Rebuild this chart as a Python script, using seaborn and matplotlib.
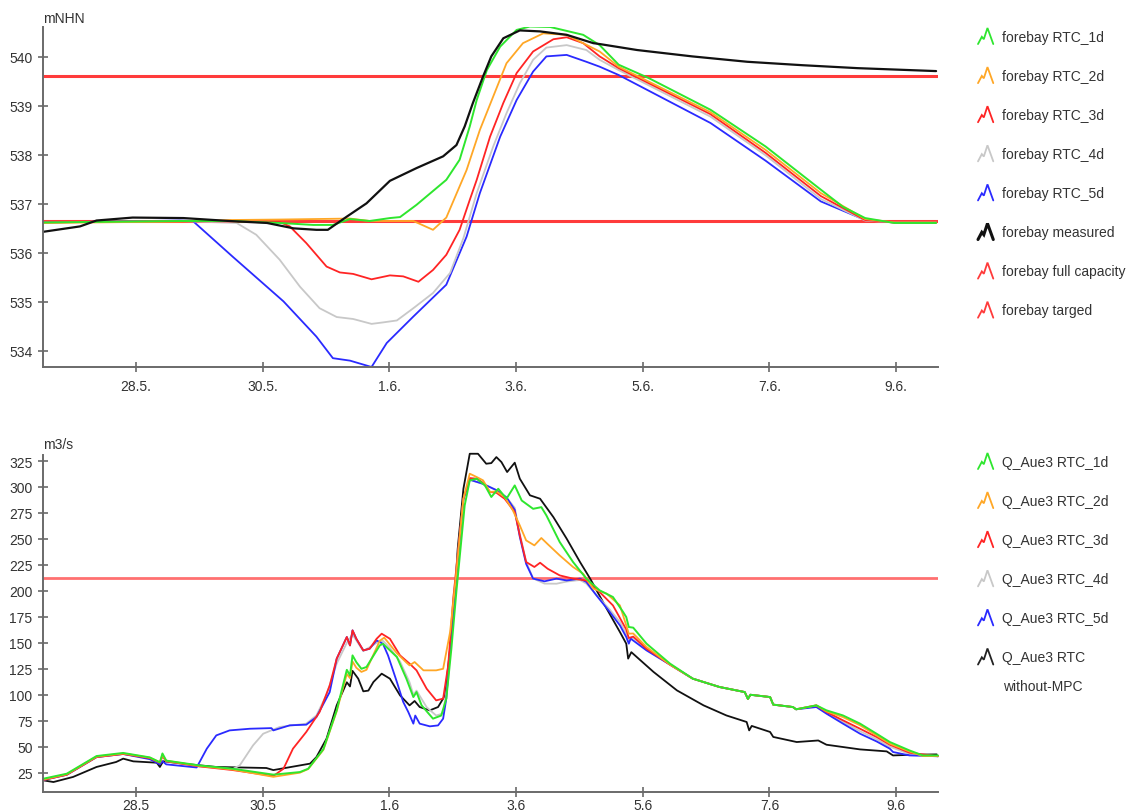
import numpy as np
import matplotlib
matplotlib.use("Agg")
import matplotlib.pyplot as plt
import seaborn as sns
from matplotlib.lines import Line2D
from matplotlib.legend_handler import HandlerBase

# ---------------- data (x = days after 28.5. 00:00) ----------------
x_ticks = [0, 2, 4, 6, 8, 10, 12]
x_labels_top = ["28.5.", "30.5.", "1.6.", "3.6.", "5.6.", "7.6.", "9.6."]
x_labels_bot = ["28.5", "30.5", "1.6", "3.6", "5.6", "7.6", "9.6"]

# --- forebay level [mNHN] ---
full_capacity = 539.6
targed = 536.65

t_meas = [-1.46, -0.88, -0.62, -0.05, 0.75, 1.48, 2.07, 2.49, 2.85, 3.03, 3.33, 3.64, 4.01, 4.43, 4.85, 5.06,
          5.19, 5.32, 5.48, 5.61, 5.80, 6.06, 6.38, 6.80, 7.22, 7.33, 7.91, 8.78, 9.65, 10.52, 11.39, 12.63]
h_meas = [536.43, 536.54, 536.66, 536.72, 536.71, 536.65, 536.61, 536.50, 536.47, 536.47, 536.74, 537.01,
          537.47, 537.73, 537.97, 538.20, 538.58, 539.06, 539.60, 540.01, 540.38, 540.54, 540.52, 540.45,
          540.28, 540.26, 540.14, 540.01, 539.90, 539.83, 539.77, 539.71]

t_h1 = [-1.46, 0.69, 1.48, 2.27, 2.80, 3.11, 3.38, 3.69, 4.01, 4.17, 4.43, 4.90, 5.11, 5.27, 5.38, 5.54,
        5.75, 6.01, 6.22, 6.54, 7.06, 7.32, 7.62, 8.09, 9.07, 9.94, 10.81, 11.16, 11.51, 11.97, 12.63]
h1 = [536.62, 536.65, 536.65, 536.61, 536.57, 536.57, 536.69, 536.65, 536.71, 536.73, 536.98, 537.49,
      537.90, 538.58, 539.12, 539.73, 540.21, 540.55, 540.62, 540.61, 540.45, 540.24, 539.84, 539.57,
      538.92, 538.17, 537.29, 536.94, 536.71, 536.61, 536.61]

t_h2 = [-1.46, 0.69, 1.48, 2.27, 3.38, 3.69, 4.38, 4.69, 4.90, 5.22, 5.43, 5.64, 5.85, 6.11, 6.43, 6.80,
        7.32, 7.62, 9.07, 9.94, 10.81, 11.51, 11.97, 12.63]
h2 = [536.61, 536.64, 536.67, 536.68, 536.70, 536.65, 536.65, 536.47, 536.72, 537.69, 538.51, 539.19,
      539.87, 540.28, 540.48, 540.45, 540.11, 539.80, 538.87, 538.10, 537.22, 536.69, 536.62, 536.62]

t_h3 = [-1.46, 0.69, 2.27, 2.43, 2.69, 3.01, 3.22, 3.43, 3.72, 4.01, 4.22, 4.46, 4.69, 4.90, 5.11, 5.27,
        5.38, 5.59, 5.80, 6.01, 6.27, 6.59, 6.80, 7.06, 7.32, 7.62, 9.07, 9.94, 10.81, 11.51, 11.97, 12.63]
h3 = [536.62, 536.65, 536.63, 536.54, 536.20, 535.72, 535.60, 535.57, 535.46, 535.54, 535.52, 535.41,
      535.65, 535.96, 536.47, 537.08, 537.49, 538.37, 539.06, 539.67, 540.11, 540.36, 540.40, 540.28,
      540.01, 539.77, 538.83, 538.04, 537.16, 536.67, 536.62, 536.62]

t_h4 = [-1.46, 0.69, 1.59, 1.90, 2.27, 2.59, 2.90, 3.17, 3.43, 3.72, 3.90, 4.12, 4.38, 4.69, 4.96, 5.17,
        5.38, 5.64, 5.85, 6.06, 6.27, 6.48, 6.80, 7.11, 7.32, 7.62, 9.07, 9.94, 10.81, 11.51, 11.97, 12.63]
h4 = [536.62, 536.65, 536.61, 536.37, 535.86, 535.31, 534.87, 534.69, 534.65, 534.55, 534.58, 534.62,
      534.87, 535.18, 535.59, 536.30, 537.22, 538.17, 538.85, 539.46, 539.94, 540.19, 540.24, 540.14,
      539.94, 539.73, 538.78, 537.99, 537.10, 536.66, 536.62, 536.62]

t_h5 = [-1.46, 0.69, 0.90, 1.53, 2.33, 2.85, 3.11, 3.38, 3.72, 3.96, 4.38, 4.90, 5.22, 5.43, 5.75, 6.01,
        6.27, 6.48, 6.80, 7.11, 7.32, 7.62, 9.07, 9.94, 10.81, 11.51, 11.97, 12.63]
h5 = [536.62, 536.66, 536.65, 535.92, 535.01, 534.29, 533.85, 533.80, 533.67, 534.16, 534.70, 535.35,
      536.33, 537.22, 538.37, 539.12, 539.70, 540.01, 540.04, 539.90, 539.80, 539.63, 538.65, 537.88,
      537.05, 536.67, 536.62, 536.62]

# --- discharge Q_Aue3 [m3/s] ---
q_limit = 212

t_q0 = [-1.46, -1.30, -0.99, -0.62, -0.31, -0.20, -0.04, 0.33, 0.38, 0.43, 0.74, 1.27, 2.06, 2.17, 2.59,
        2.75, 2.85, 3.01, 3.17, 3.33, 3.38, 3.42, 3.51, 3.59, 3.67, 3.75, 3.88, 4.01, 4.17, 4.32, 4.40,
        4.48, 4.64, 4.77, 4.88, 4.96, 5.03, 5.08, 5.17, 5.27, 5.40, 5.53, 5.61, 5.69, 5.77, 5.86, 5.98,
        6.06, 6.22, 6.38, 6.59, 6.80, 7.01, 7.17, 7.43, 7.64, 7.74, 7.77, 7.82, 8.17, 8.54, 8.96, 9.32,
        9.64, 9.68, 9.72, 10.01, 10.06, 10.43, 10.77, 10.90, 11.43, 11.85, 11.95, 12.27, 12.64]
q0 = [17.6, 16.0, 20.9, 30.5, 35.3, 38.5, 35.9, 34.6, 30.5, 36.0, 33.7, 30.5, 29.5, 27.5, 32.0, 33.7,
      40.0, 57.8, 89.8, 112.0, 108.0, 123.0, 115.5, 103.3, 104.0, 112.3, 120.3, 115.5, 99.4, 89.8, 94.0,
      88.2, 85.0, 88.2, 99.4, 144.3, 192.5, 240.6, 298.3, 332.0, 332.0, 322.4, 323.0, 328.8, 324.0, 314.4,
      323.4, 308.0, 292.0, 288.7, 271.0, 250.2, 227.8, 211.8, 183.0, 160.4, 149.2, 134.8, 141.0, 122.0,
      104.2, 89.8, 80.1, 73.8, 65.7, 70.0, 64.2, 59.4, 54.5, 56.0, 51.9, 47.4, 45.5, 41.6, 42.3, 42.6]

t_q1 = [-1.46, -1.09, -0.62, -0.20, 0.22, 0.38, 0.42, 0.48, 1.01, 1.53, 2.17, 2.59, 2.72, 2.96, 3.17,
        3.33, 3.38, 3.42, 3.48, 3.56, 3.64, 3.85, 3.90, 4.12, 4.27, 4.38, 4.43, 4.51, 4.69, 4.82, 4.90,
        4.98, 5.06, 5.19, 5.27, 5.38, 5.51, 5.61, 5.72, 5.85, 5.98, 6.09, 6.27, 6.40, 6.48, 6.69, 6.90,
        7.11, 7.32, 7.53, 7.69, 7.74, 7.78, 7.85, 8.06, 8.43, 8.79, 9.21, 9.61, 9.66, 9.70, 10.01, 10.06,
        10.37, 10.42, 10.74, 10.90, 11.16, 11.43, 11.69, 11.90, 12.21, 12.42, 12.66]
q1 = [19.2, 24.0, 41.0, 44.0, 39.7, 35.0, 43.5, 36.6, 31.9, 28.8, 23.1, 25.6, 28.8, 47.6, 85.0, 124.0,
      118.6, 137.9, 131.4, 125.0, 126.7, 147.5, 149.1, 136.4, 115.5, 97.8, 102.6, 89.8, 77.0, 80.0, 96.3,
      144.3, 200.0, 282.3, 306.3, 308.0, 301.5, 290.4, 298.3, 288.7, 301.5, 287.0, 279.0, 280.6, 272.6,
      247.0, 227.8, 211.8, 200.5, 194.1, 179.7, 174.8, 165.2, 164.6, 149.2, 130.0, 115.5, 107.5, 102.6,
      96.0, 100.0, 97.8, 90.5, 88.2, 86.0, 89.8, 85.0, 80.1, 72.2, 62.5, 54.5, 46.4, 41.6, 41.6]

t_q2 = [-1.46, -1.09, -0.62, -0.20, 0.22, 0.38, 0.42, 0.48, 1.01, 1.53, 2.17, 2.59, 2.72, 2.96, 3.17,
        3.33, 3.38, 3.42, 3.48, 3.56, 3.64, 3.85, 3.92, 4.12, 4.27, 4.32, 4.40, 4.54, 4.74, 4.85, 4.96,
        5.06, 5.17, 5.27, 5.38, 5.48, 5.59, 5.69, 5.82, 5.95, 6.06, 6.16, 6.29, 6.40, 6.50, 6.69, 6.90,
        7.06, 7.22, 7.43, 7.64, 7.74, 7.78, 7.85, 8.06, 8.43, 8.79, 9.21, 9.61, 9.66, 9.70, 10.01, 10.06,
        10.37, 10.42, 10.74, 10.90, 11.16, 11.43, 11.69, 11.90, 12.21, 12.42, 12.66]
q2 = [18.5, 23.5, 40.5, 43.5, 39.5, 35.0, 42.0, 36.5, 31.5, 28.0, 21.0, 25.0, 28.5, 47.0, 84.0, 120.0,
      116.0, 132.0, 126.0, 122.0, 124.0, 152.0, 155.0, 140.0, 131.0, 128.3, 131.5, 123.5, 123.5, 125.0,
      160.4, 218.0, 288.7, 312.8, 309.6, 306.4, 295.2, 295.8, 290.4, 277.5, 263.0, 248.6, 243.8, 250.9,
      245.0, 234.1, 223.0, 216.5, 202.1, 197.4, 186.0, 166.8, 158.8, 159.0, 146.0, 129.0, 115.5, 107.5,
      102.6, 96.0, 100.0, 97.8, 90.5, 88.2, 86.0, 89.8, 84.0, 78.5, 70.6, 60.9, 52.9, 45.4, 41.0, 41.0]

t_q3 = [-1.46, -1.09, -0.62, -0.20, 0.22, 0.38, 0.42, 0.48, 1.01, 1.53, 2.17, 2.33, 2.48, 2.69, 2.90,
        3.06, 3.17, 3.33, 3.38, 3.42, 3.48, 3.59, 3.69, 3.80, 3.88, 4.01, 4.17, 4.32, 4.43, 4.59, 4.74,
        4.85, 4.93, 5.01, 5.17, 5.27, 5.38, 5.48, 5.59, 5.69, 5.82, 5.98, 6.06, 6.16, 6.29, 6.38, 6.50,
        6.69, 6.90, 7.11, 7.32, 7.53, 7.74, 7.78, 7.85, 8.06, 8.43, 8.79, 9.21, 9.61, 9.66, 9.70, 10.01,
        10.06, 10.37, 10.42, 10.74, 10.90, 11.16, 11.43, 11.69, 11.90, 12.21, 12.66]
q3 = [18.0, 23.0, 40.0, 43.0, 39.0, 34.5, 41.0, 36.0, 31.0, 27.5, 21.8, 28.8, 48.1, 64.2, 83.4, 109.0,
      134.7, 155.6, 147.5, 162.0, 153.9, 142.7, 144.3, 153.9, 158.8, 153.9, 137.9, 130.0, 123.5, 105.8,
      94.6, 96.3, 128.3, 192.5, 288.7, 308.6, 308.0, 304.0, 295.2, 294.5, 288.7, 276.0, 253.4, 227.8,
      223.0, 227.1, 221.3, 214.9, 211.8, 210.0, 198.9, 186.0, 162.9, 154.6, 156.0, 144.3, 129.0, 115.5,
      107.5, 102.6, 96.0, 100.0, 97.8, 90.5, 88.2, 86.0, 89.8, 83.4, 75.4, 67.3, 59.4, 51.9, 44.2, 40.8]

t_q4 = [-1.46, -1.09, -0.62, -0.20, 0.22, 0.38, 0.42, 0.48, 1.01, 1.53, 1.64, 1.85, 2.01, 2.27, 2.69,
        2.85, 3.01, 3.17, 3.33, 3.42, 3.59, 3.80, 3.90, 4.01, 4.17, 4.32, 4.38, 4.43, 4.59, 4.74, 4.85,
        4.93, 5.01, 5.17, 5.27, 5.48, 5.69, 5.85, 5.98, 6.06, 6.16, 6.27, 6.45, 6.64, 6.80, 7.01, 7.11,
        7.27, 7.48, 7.64, 7.74, 7.78, 7.85, 8.06, 8.43, 8.79, 9.21, 9.61, 9.66, 9.70, 10.01, 10.06, 10.37,
        10.42, 10.74, 10.90, 11.16, 11.43, 11.69, 11.90, 12.21, 12.66]
q4 = [18.0, 23.0, 40.0, 43.0, 39.0, 34.5, 41.0, 36.0, 31.0, 28.5, 32.0, 51.3, 62.5, 69.0, 72.2, 80.1,
      100.0, 130.0, 150.0, 158.0, 142.0, 150.0, 152.0, 145.0, 132.0, 112.0, 100.0, 104.0, 88.0, 80.0,
      82.0, 115.0, 192.5, 288.0, 307.0, 303.0, 297.0, 290.0, 280.0, 255.0, 228.0, 212.0, 207.0, 206.9,
      209.0, 210.5, 207.0, 196.0, 182.0, 170.0, 159.0, 152.0, 155.0, 143.5, 129.0, 115.5, 107.5, 102.6,
      96.0, 100.0, 97.8, 90.5, 88.2, 86.0, 89.0, 82.5, 73.8, 64.9, 57.2, 50.0, 43.0, 40.8]

t_q5 = [-1.46, -1.09, -0.62, -0.20, 0.22, 0.38, 0.42, 0.48, 0.96, 1.12, 1.27, 1.48, 1.80, 2.14, 2.17,
        2.43, 2.69, 2.85, 3.06, 3.17, 3.33, 3.38, 3.42, 3.48, 3.59, 3.69, 3.80, 3.90, 3.98, 4.12, 4.22,
        4.30, 4.38, 4.41, 4.48, 4.64, 4.77, 4.85, 4.90, 4.96, 5.03, 5.17, 5.27, 5.48, 5.69, 5.85, 5.98,
        6.06, 6.16, 6.27, 6.45, 6.64, 6.80, 7.01, 7.11, 7.27, 7.48, 7.64, 7.74, 7.78, 7.81, 8.06, 8.43,
        8.79, 9.21, 9.61, 9.66, 9.70, 10.01, 10.06, 10.37, 10.42, 10.74, 10.90, 11.16, 11.43, 11.69,
        11.90, 11.95, 12.21, 12.66]
q5 = [18.0, 23.0, 40.0, 43.0, 38.0, 33.0, 36.0, 33.0, 30.0, 48.1, 60.9, 65.7, 67.3, 67.9, 65.7, 70.6,
      71.2, 78.5, 102.6, 134.7, 155.6, 147.5, 162.0, 153.9, 142.7, 144.3, 152.3, 149.1, 137.9, 112.3,
      93.1, 83.4, 72.2, 80.0, 72.2, 69.6, 70.5, 77.0, 96.3, 144.3, 192.5, 288.0, 307.0, 303.0, 297.0,
      290.0, 278.0, 252.0, 226.0, 211.8, 209.2, 211.8, 210.0, 211.8, 208.6, 195.6, 179.7, 166.8, 155.6,
      149.2, 154.0, 142.7, 129.0, 115.5, 107.5, 102.6, 96.0, 100.0, 97.8, 90.5, 88.2, 86.0, 88.2, 81.8,
      72.2, 62.5, 55.1, 48.1, 44.9, 41.6, 40.8]

top_labels = ["forebay RTC_1d", "forebay RTC_2d", "forebay RTC_3d", "forebay RTC_4d", "forebay RTC_5d",
              "forebay measured", "forebay full capacity", "forebay targed"]
bot_labels = ["Q_Aue3 RTC_1d", "Q_Aue3 RTC_2d", "Q_Aue3 RTC_3d", "Q_Aue3 RTC_4d", "Q_Aue3 RTC_5d",
              "Q_Aue3 RTC"]

# ---------------- style ----------------
C1, C2, C3, C4, C5, CK = "#2ee62e", "#ffa726", "#ff2424", "#c8c8c8", "#2a2aff", "#111111"
CLIM_TOP, CLIM_BOT = "#ff3b3b", "#ff7070"
TXT = "#333333"

sns.set_theme(style="white")
plt.rcParams["font.family"] = ["Liberation Sans", "DejaVu Sans"]
plt.rcParams["font.size"] = 10


class ZigzagHandler(HandlerBase):
    def create_artists(self, legend, orig_handle, xdescent, ydescent, width, height, fontsize, trans):
        fx = np.array([0.0, 0.25, 0.38, 0.62, 1.0])
        fy = np.array([0.0, 0.45, 0.30, 1.0, 0.0])
        ln = Line2D(fx * width - xdescent, fy * height - ydescent, color=orig_handle.get_color(),
                    lw=orig_handle.get_linewidth(), solid_joinstyle="miter")
        ln.set_transform(trans)
        return [ln]


W, H = 1129, 812
fig = plt.figure(figsize=(W / 100, H / 100), dpi=100)
ax1 = fig.add_axes([43 / W, 1 - 368 / H, 895 / W, 340.5 / H])
ax2 = fig.add_axes([43 / W, 1 - 793 / H, 895 / W, 337 / H])

XMIN, XMAX = -1.465, 12.66


def style_axes(ax, labels, xpad):
    for s in ["top", "right"]:
        ax.spines[s].set_visible(False)
    for s in ["left", "bottom"]:
        ax.spines[s].set_color("#6a6a6a")
        ax.spines[s].set_linewidth(1.4)
    ax.set_xlim(XMIN, XMAX)
    ax.set_xticks(x_ticks)
    ax.set_xticklabels(labels)
    ax.tick_params(axis="both", direction="inout", length=7, width=1.2, color="#6a6a6a",
                   labelcolor=TXT, labelsize=10, pad=4, left=True, bottom=True)
    ax.tick_params(axis="x", pad=xpad)
    ax.set_xlabel("")
    ax.set_ylabel("")
    ax.grid(False)


# ---- top panel ----
ax1.axhline(full_capacity, color=CLIM_TOP, lw=2.2, zorder=1)
ax1.axhline(targed, color=CLIM_TOP, lw=2.2, zorder=1)
for t, v, c, lw in [(t_h5, h5, C5, 1.3), (t_h4, h4, C4, 1.3), (t_h3, h3, C3, 1.3),
                    (t_h2, h2, C2, 1.3), (t_h1, h1, C1, 1.4), (t_meas, h_meas, CK, 1.6)]:
    sns.lineplot(x=t, y=v, ax=ax1, color=c, lw=lw, sort=False, estimator=None, legend=False)
ax1.set_ylim(533.67, 540.62)
ax1.set_yticks([534, 535, 536, 537, 538, 539, 540])
style_axes(ax1, x_labels_top, 5)

# ---- bottom panel ----
ax2.axhline(q_limit, color=CLIM_BOT, lw=2.0, zorder=1)
for t, v, c, lw in [(t_q0, q0, CK, 1.3), (t_q4, q4, C4, 1.3), (t_q5, q5, C5, 1.3),
                    (t_q3, q3, C3, 1.3), (t_q2, q2, C2, 1.3), (t_q1, q1, C1, 1.4)]:
    sns.lineplot(x=t, y=v, ax=ax2, color=c, lw=lw, sort=False, estimator=None, legend=False)
    ax2.lines[-1].set_clip_on(False)
ax2.set_ylim(6.4, 330.8)
ax2.set_yticks(list(range(25, 326, 25)))
style_axes(ax2, x_labels_bot, 0.5)

# unit labels
fig.text(43 / W, 1 - 19 / H, "mNHN", ha="left", va="center", color=TXT, fontsize=10)
fig.text(43 / W, 1 - 445 / H, "m3/s", ha="left", va="center", color=TXT, fontsize=10)

# legends
top_colors = [C1, C2, C3, C4, C5, CK, CLIM_TOP, CLIM_TOP]
top_lws = [1.3, 1.3, 1.3, 1.3, 1.3, 2.2, 1.3, 1.3]
h_top = [Line2D([], [], color=c, lw=w) for c, w in zip(top_colors, top_lws)]
leg1 = ax1.legend(h_top, top_labels, handler_map={Line2D: ZigzagHandler()}, loc="upper left",
                  bbox_to_anchor=(978 / W, 1 - 29 / H), bbox_transform=fig.transFigure,
                  frameon=False, borderpad=0, borderaxespad=0, handlelength=1.1, handleheight=1.4,
                  handletextpad=0.6, labelspacing=1.66, fontsize=10, labelcolor=TXT)

bot_colors = [C1, C2, C3, C4, C5, "#222222"]
h_bot = [Line2D([], [], color=c, lw=1.3) for c in bot_colors]
leg2 = ax2.legend(h_bot, bot_labels, handler_map={Line2D: ZigzagHandler()}, loc="upper left",
                  bbox_to_anchor=(978 / W, 1 - 454 / H), bbox_transform=fig.transFigure,
                  frameon=False, borderpad=0, borderaxespad=0, handlelength=1.1, handleheight=1.4,
                  handletextpad=0.6, labelspacing=1.66, fontsize=10, labelcolor=TXT)
fig.text(1003 / W, 1 - 687 / H, "without-MPC", ha="left", va="center", color=TXT, fontsize=10)

fig.savefig("out.png", dpi=100, facecolor="white")
